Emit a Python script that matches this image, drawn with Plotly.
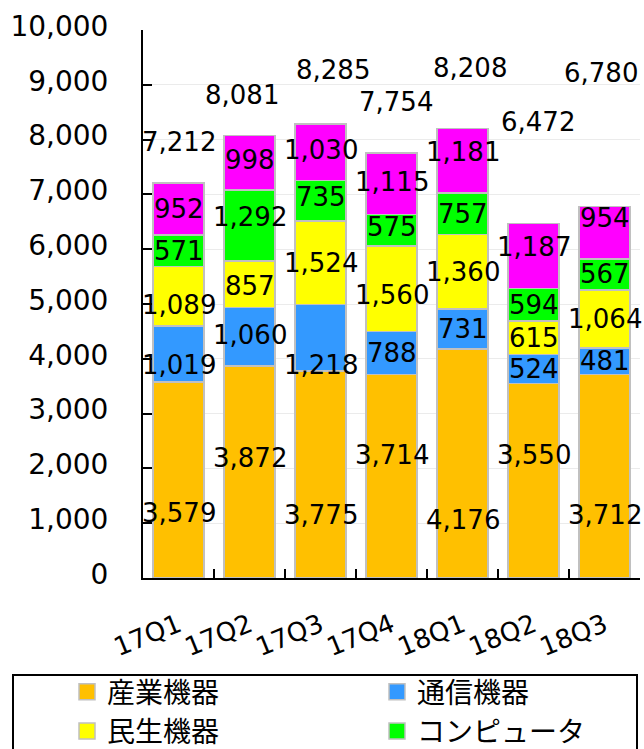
import plotly.graph_objects as go

# Quarterly sales by application segment (stacked), with quarter totals
quarters = ["17Q1", "17Q2", "17Q3", "17Q4", "18Q1", "18Q2", "18Q3"]
industrial = [3579, 3872, 3775, 3714, 4176, 3550, 3712]
telecom = [1019, 1060, 1218, 788, 731, 524, 481]
consumer = [1089, 857, 1524, 1560, 1360, 615, 1064]
computer = [571, 1292, 735, 575, 757, 594, 567]
others = [952, 998, 1030, 1115, 1181, 1187, 954]
totals = [7212, 8081, 8285, 7754, 8208, 6472, 6780]
series_names = ["産業機器", "通信機器", "民生機器", "コンピュータ", "その他"]
y_ticks = list(range(0, 10001, 1000))

series_values = [industrial, telecom, consumer, computer, others]
colors = ["#FFC000", "#3399FF", "#FFFF00", "#00FF00", "#FF00FF"]
# the legend frame runs off the page, so only the first two rows are listed
in_legend = [True, True, True, True, False]

# vertical nudges (px, positive = down) for the segment value labels
label_drop = [
    [33, -14, 40, -21, 56, -26, 39],
    [11, -2, 27, 0, 0, 0, 0],
    [9, 2, 0, 6, 0, 0, 0],
    [0, -8, -4, -3, 0, 0, 0],
    [0, -3, -2, -2, -9, -9, -15],
]
# total labels: lift above the stack top (px) and sideways nudge (px)
total_lift = [41, 40, 54, 51, 60, 101, 133]
total_side = [0, -8, 12, 4, 7, 4, -4]

NUM_FONT = dict(family="DejaVu Sans", size=26, color="#000000")

# plot-area geometry in pixels, used to place the legend frame in paper units
L, T, W, H = 143, 30, 497, 548


def px_x(px):
    return (px - L) / W


def px_y(py):
    return (T + H - py) / H


fig = go.Figure()
for name, vals, col, shown in zip(series_names, series_values, colors, in_legend):
    fig.add_trace(go.Bar(
        x=quarters, y=vals, name=name, showlegend=False,
        marker=dict(color=col, line=dict(color="#C0C0C0", width=1.5)),
    ))
    if shown:
        # legend swatch
        fig.add_trace(go.Scatter(
            x=[None], y=[None], mode="markers", name=name,
            marker=dict(symbol="square", size=16, color=col,
                        line=dict(color="#C0C0C0", width=1.5)),
        ))

annotations = []
base = [0] * len(quarters)
for s, vals in enumerate(series_values):
    for j, q in enumerate(quarters):
        annotations.append(dict(
            x=q, y=base[j] + vals[j] / 2, text=f"{vals[j]:,}",
            showarrow=False, font=NUM_FONT, yshift=-label_drop[s][j],
            xanchor="center", yanchor="middle",
        ))
    base = [b + v for b, v in zip(base, vals)]

for j, q in enumerate(quarters):
    annotations.append(dict(
        x=q, y=totals[j], text=f"{totals[j]:,}", showarrow=False,
        font=NUM_FONT, yshift=total_lift[j], xshift=total_side[j],
        xanchor="center", yanchor="middle",
    ))

# frame around the legend, running off the bottom of the page
legend_frame = dict(
    type="rect", xref="paper", yref="paper",
    x0=px_x(13), x1=px_x(637), y0=px_y(675), y1=px_y(790),
    line=dict(color="#000000", width=2), fillcolor="rgba(0,0,0,0)",
)

fig.update_layout(
    width=644, height=749,
    barmode="stack", bargap=0.28,
    paper_bgcolor="white", plot_bgcolor="white",
    margin=dict(l=L, r=644 - L - W, t=T, b=749 - T - H, autoexpand=False),
    annotations=annotations,
    shapes=[legend_frame],
    showlegend=True,
    legend=dict(
        orientation="h", x=px_x(67), y=px_y(667), xanchor="left", yanchor="top",
        borderwidth=0, bgcolor="rgba(0,0,0,0)",
        font=dict(family="Noto Sans CJK JP", size=28, color="#000000"),
        entrywidth=265, traceorder="normal",
    ),
    xaxis=dict(
        type="category", range=[-0.5, 6.5],
        showline=True, linecolor="#000000", linewidth=2,
        ticks="inside", tickson="boundaries", ticklen=9, tickwidth=2,
        tickcolor="#000000", tickangle=-22,
        tickfont=dict(family="DejaVu Sans", size=26, color="#000000"),
        ticklabelstandoff=20,
        showgrid=False,
    ),
    yaxis=dict(
        range=[0, 10000], tickvals=y_ticks,
        ticktext=[f"{v:,}" for v in y_ticks],
        showline=True, linecolor="#000000", linewidth=2,
        ticks="inside", ticklen=9, tickwidth=2, tickcolor="#000000",
        tickfont=dict(family="DejaVu Sans", size=28, color="#000000"),
        ticklabelstandoff=27, ticklabelshift=-4,
        showgrid=True, gridcolor="#EBEBEB", gridwidth=1,
        zeroline=False,
    ),
)

fig.write_html("out.html")
